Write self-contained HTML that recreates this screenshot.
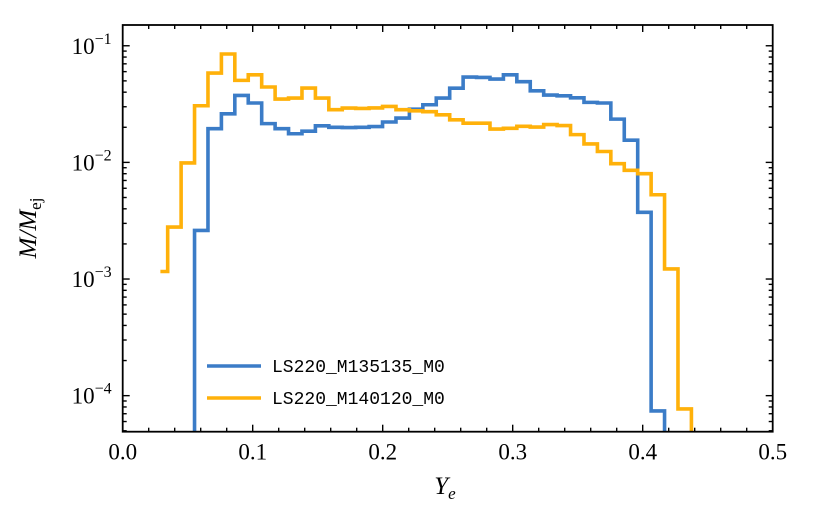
<!DOCTYPE html>
<html><head><meta charset="utf-8"><style>
html,body{margin:0;padding:0;background:#fff;}
svg{display:block;}
text{font-family:"Liberation Serif",serif;fill:#000;}
.mono{font-family:"Liberation Mono",monospace;}
</style></head><body>
<svg id="chart" width="814" height="509" viewBox="0 0 814 509" xmlns="http://www.w3.org/2000/svg"></svg>
<script>
const binStart = 0.0346;
const binWidth = 0.01033;
const orangeFirstEdge = 0.029;
// orange: first value is partial bin [0.029, binStart], then bins from binStart
const orangeValues = [0.00116,0.00279,0.0099,0.0306,0.0583,0.085,0.0505,0.0564,0.0443,0.0349,0.0356,0.0434,0.0356,0.0283,0.0292,0.029,0.0293,0.0302,0.0283,0.0277,0.0272,0.0256,0.0232,0.0217,0.0217,0.0193,0.0196,0.0204,0.0201,0.0211,0.0207,0.0173,0.0144,0.0124,0.00975,0.00855,0.0080,0.00528,0.00122,0.000077];
// blue: starts at bin index 2
const blueStartBin = 2;
const blueValues = [0.00261,0.01945,0.0261,0.0375,0.0323,0.0215,0.01945,0.0176,0.0185,0.0206,0.0200,0.0199,0.0200,0.0203,0.0222,0.024,0.0286,0.0312,0.0356,0.0433,0.0539,0.0535,0.0518,0.0564,0.0492,0.0411,0.0378,0.0372,0.0358,0.0327,0.0323,0.0235,0.0155,0.00373,0.000074];
const xTicks = [0,0.1,0.2,0.3,0.4,0.5];
const xTickLabels = ["0.0","0.1","0.2","0.3","0.4","0.5"];
const yDecades = [-4,-3,-2,-1];
const seriesNames = ["LS220_M135135_M0","LS220_M140120_M0"];

const L=122.7,R=772.7,T=25,B=431.7;
const xMin=0,xMax=0.5;
const yLogMin=-4.309,yLogMax=-0.822;
const X=v=>L+(v-xMin)/(xMax-xMin)*(R-L);
const Y=v=>{const lv=Math.log10(v);return B-(lv-yLogMin)/(yLogMax-yLogMin)*(B-T);};
const NS="http://www.w3.org/2000/svg";
const svg=document.getElementById('chart');
function mk(tag,attrs,parent){const e=document.createElementNS(NS,tag);for(const k in attrs)e.setAttribute(k,attrs[k]);(parent||svg).appendChild(e);return e;}

const defs=mk('defs',{});
const cp=mk('clipPath',{id:'clip'},defs);
mk('rect',{x:L,y:T,width:R-L,height:B-T},cp);

function stepPath(edges,vals,fromBottom){
  const yb=B+20;
  const pts=[];
  if(fromBottom)pts.push([X(edges[0]),yb]);
  for(let i=0;i<vals.length;i++){
    const y=Y(vals[i]);
    pts.push([X(edges[i]),y]);pts.push([X(edges[i+1]),y]);
  }
  pts.push([X(edges[vals.length]),yb]);
  return pts.map((p,i)=>(i?'L':'M')+p[0].toFixed(2)+','+p[1].toFixed(2)).join(' ');
}
const g=mk('g',{'clip-path':'url(#clip)'});


const bEdges=[];for(let i=0;i<=blueValues.length;i++)bEdges.push(binStart+binWidth*(blueStartBin+i));
const pb=mk('path',{d:stepPath(bEdges,blueValues,true),fill:'none',stroke:'#3b7cc7','stroke-width':3.6,'stroke-linejoin':'miter'},g);


const oEdges=[orangeFirstEdge];for(let i=0;i<orangeValues.length;i++)oEdges.push(binStart+binWidth*i);
const po=mk('path',{d:stepPath(oEdges,orangeValues,false),fill:'none',stroke:'#ffb10a','stroke-width':3.6,'stroke-linejoin':'miter'},g);



const tg=mk('g',{stroke:'#000','stroke-width':1.4});


for(let k=0;k<=25;k++){
  const v=k*0.02;const x=X(v);const maj=(k%5===0);const len=maj?7:4;
  mk('line',{x1:x,y1:B,x2:x,y2:B-len},tg);
  mk('line',{x1:x,y1:T,x2:x,y2:T+len},tg);
}
for(let d=-5;d<=-1;d++){
  for(let m=1;m<=9;m++){
    const v=m*Math.pow(10,d);const lv=Math.log10(v);
    if(lv<yLogMin||lv>yLogMax)continue;
    const y=Y(v);const len=m===1?7:4;
    mk('line',{x1:L,y1:y,x2:L+len,y2:y},tg);
    mk('line',{x1:R,y1:y,x2:R-len,y2:y},tg);
  }
}
const fr=mk('rect',{x:L,y:T,width:R-L,height:B-T,fill:'none',stroke:'#000','stroke-width':1.8});



xTicks.forEach((v,i)=>{
  const t=mk('text',{x:X(v),y:B+28,'text-anchor':'middle','font-size':23});
  t.textContent=xTickLabels[i];
  
  
});
yDecades.forEach(d=>{
  const y=Y(Math.pow(10,d));
  const t=mk('text',{x:L-11,y:y+8,'text-anchor':'end','font-size':23});
  const a=mk('tspan',{},t);a.textContent='10';
  const s=mk('tspan',{dy:-10,'font-size':16},t);s.textContent='\u2212'+(-d);
  
  
});
const xt=mk('text',{x:445,y:494,'text-anchor':'middle','font-size':25,'font-style':'italic'});
xt.innerHTML='Y<tspan font-size="17" dy="5">e</tspan>';


const yt=mk('text',{x:0,y:0,'text-anchor':'middle','font-size':25,'font-style':'italic',transform:'translate(36,228) rotate(-90)'});
yt.innerHTML='M/M<tspan font-size="17" dy="5" font-style="normal">ej</tspan>';



const lg=mk('g',{});


const cols=['#3b7cc7','#ffb10a'];
seriesNames.forEach((n,i)=>{
  const y=366+i*32;
  const e=mk('g',{},lg);
  
  
  mk('line',{x1:207,y1:y,x2:261,y2:y,stroke:cols[i],'stroke-width':3.6},e);
  const t=mk('text',{x:272,y:y+6,'font-size':18,class:'mono'},e);
  t.textContent=n;
});
</script>
</body></html>
